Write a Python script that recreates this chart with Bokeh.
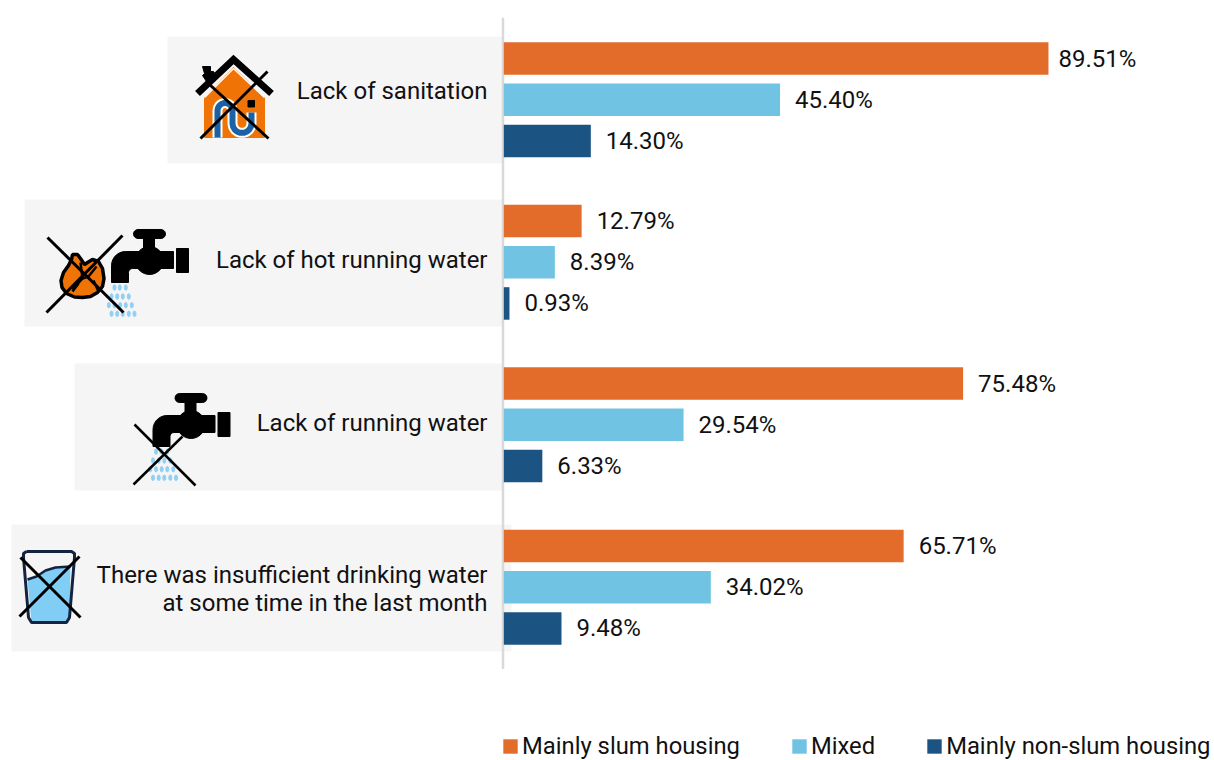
import numpy as np
from bokeh.plotting import figure
from bokeh.layouts import column
from bokeh.models import FactorRange, Range1d, Legend, LegendItem, ColumnDataSource
from bokeh.core.properties import value
from bokeh.embed import file_html
from bokeh.resources import INLINE

categories = ["Lack of sanitation", "Lack of hot running water", "Lack of running water",
              "There was insufficient drinking water\nat some time in the last month"]
series = ["Mainly slum housing", "Mixed", "Mainly non-slum housing"]
slum = [89.51, 12.79, 75.48, 65.71]
mixed = [45.40, 8.39, 29.54, 34.02]
nonslum = [14.30, 0.93, 6.33, 9.48]
colors = ["#E36C2B", "#70C3E3", "#1B5482"]
panel_lefts = [167, 24, 74, 11]
panel_rights = [503, 503, 503, 511]
panel_tops = [36, 199, 363, 524]
label_nudges = [-9, -2, -2, 2]
FONT = "Roboto"
FS = "24px"

factors = [(c, s) for c in reversed(categories) for s in reversed(series)]
W = 1214
TOP, BOTTOM, PAGE_H = 17, 669, 760
PX = 6.085   # pixels per percent
x0_page = 503.3
GROUP_PAD = 0.944
RANGE_PAD = 0.495   # per end
TOTAL = 12 + 3 * GROUP_PAD
PXU = (BOTTOM - TOP) / (TOTAL + 2 * RANGE_PAD)   # pixels per factor unit


def Y(v):
    """page pixel -> synthetic coordinate on the factor range (pictograms only)"""
    return list(-RANGE_PAD + (BOTTOM - np.asarray(v, dtype=float)) / PXU)


p = figure(width=W, height=BOTTOM, output_backend="svg", toolbar_location=None,
           x_range=Range1d((0 - x0_page) / PX, (W - x0_page) / PX),
           y_range=FactorRange(factors=factors, factor_padding=0, group_padding=GROUP_PAD,
                               subgroup_padding=0, range_padding=RANGE_PAD, range_padding_units="absolute"),
           min_border_left=0, min_border_right=0, min_border_top=TOP, min_border_bottom=0,
           outline_line_color=None, background_fill_color="white", border_fill_color="white")
p.xaxis.visible = False
p.yaxis.visible = False
p.grid.visible = False
# page-pixel coordinates for the pictograms
p.extra_x_ranges["px"] = Range1d(0, W)
pk = dict(x_range_name="px")

# panels behind the categories
p.quad(left=panel_lefts, right=panel_rights, top=Y(panel_tops), bottom=Y([t + 127 for t in panel_tops]),
       fill_color="#F5F5F5", line_color=None, **pk)

# vertical base line, over the panels and under the bars
p.segment(x0=[502.5], x1=[502.5], y0=Y([TOP]), y1=Y([BOTTOM]), line_color="#D9D9D9", line_width=2.5, **pk)

# bars
for s, vals, col in zip(series, [slum, mixed, nonslum], colors):
    src = ColumnDataSource(dict(y=[(c, s) for c in categories], v=vals,
                                lab=[f"{v:.2f}%" for v in vals],
                                dx=[10 if v > 85 else 15 for v in vals]))
    p.hbar(y="y", right="v", left=0, height=32.5 / PXU, fill_color=col, line_color=None, source=src)
    p.text(x="v", y="y", text="lab", x_offset="dx", source=src, text_font=value(FONT), text_font_size=FS,
           text_color="#111111", text_align="left", text_baseline="middle")

# category labels
p.text(x=[(487 - x0_page) / PX] * 4, y=[(c, "Mixed") for c in categories], text=categories,
       y_offset=label_nudges,
       text_font=value(FONT), text_font_size=FS, text_color="#111111", text_align="right",
       text_baseline="middle", text_line_height=1.0)


# ---- pictograms (decoration, page pixels)
def arc(cx, cy, r, a0, a1, n=12):
    a = np.radians(np.linspace(a0, a1, n))
    return list(cx + r * np.cos(a)), list(cy - r * np.sin(a))


def cross(a, b, w=3):
    p.multi_line(xs=[[a[0], a[2]], [b[0], b[2]]], ys=[Y([a[1], a[3]]), Y([b[1], b[3]])],
                 line_color="black", line_width=w, **pk)


DROPS = [(114, 287), (119.3, 287), (125.3, 287),
         (111, 296), (116.7, 296), (122.3, 296), (128.3, 296),
         (108.3, 304.7), (114, 304.7), (119.7, 304.7), (125.3, 304.7), (131.3, 304.7),
         (111, 313.3), (116.7, 313.3), (122.3, 313.3), (128.3, 313.3), (134, 313.3)]


def faucet(dx, dy):
    ax, ay = arc(137.5, 233.5, 4.5, 90, 270, 8)
    bx, by = arc(160.5, 233.5, 4.5, -90, 90, 8)
    p.patch(list(np.array(ax + bx) + dx), Y(np.array(ay + by) + dy), color="black", **pk)
    p.quad(left=[143 + dx], right=[154 + dx], top=Y([237 + dy]), bottom=Y([250 + dy]), color="black", **pk)
    cx, cy = arc(149, 260, 14, 0, 360, 30)
    p.patch(list(np.array(cx) + dx), Y(np.array(cy) + dy), color="black", **pk)
    p.quad(left=[140 + dx], right=[173 + dx], top=Y([251 + dy]), bottom=Y([268 + dy]), color="black", **pk)
    p.quad(left=[176 + dx], right=[188 + dx], top=Y([248 + dy]), bottom=Y([272 + dy]), color="black", **pk)
    ox, oy = arc(125, 265, 14, 90, 180, 8)
    ix, iy = arc(132, 272, 4, 180, 90, 5)
    sx = [140] + ox + [111, 128] + ix + [140]
    sy = [251] + oy + [282, 282] + iy + [268]
    p.patch(list(np.array(sx) + dx), Y(np.array(sy) + dy), color="black", **pk)
    p.ellipse(x=[d[0] + dx for d in DROPS], y=Y([d[1] + dy for d in DROPS]), width=3.0, height=5.5,
              width_units="screen", height_units="screen", color="#8FD0F5", **pk)


# house
p.patch([204, 204, 233, 264, 264], Y([137, 97, 67, 97, 137]), color="#F07305", **pk)
p.line([197, 233, 271], Y([93, 59, 93]), line_color="black", line_width=7, line_join="miter", **pk)
p.line([204, 233, 264], Y([97, 68, 97]), line_color="white", line_width=1.5, **pk)
p.patch([202, 210, 210, 213, 216, 208, 202, 204], Y([66, 66, 71, 71, 76, 84, 75, 73]), color="black", **pk)
a1x, a1y = arc(224.5, 110, 7.5, 180, 0, 10)
a2x, a2y = arc(241.5, 123, 9.5, 180, 360, 10)
pipe_x = [217] + a1x + a2x + [251, 251]
pipe_y = [137] + a1y + a2y + [112, 112]
p.line(pipe_x, Y(pipe_y), line_color="white", line_width=10, **pk)
p.line(pipe_x, Y(pipe_y), line_color="#1A62A3", line_width=6, **pk)
p.quad(left=[247.5], right=[254], top=Y([100]), bottom=Y([106.5]), color="black", **pk)
cross((200, 138, 267, 71), (209, 84, 268, 138))

# hot-water tap
faucet(0, 0)
fx = [82, 74, 66, 61.5, 60.5, 63, 68, 71, 72, 77, 80, 84, 87, 92, 98, 102, 103.5, 102, 97, 90]
fy = [297, 296.5, 293, 287, 280, 272, 265, 259, 254, 254, 258, 264, 262, 259, 261, 268, 278, 286, 292, 296]
p.patch(fx, Y(fy), fill_color="#F07305", line_color="black", line_width=3.5, **pk)
p.multi_line(xs=[[72, 82, 80], [96, 88, 82], [72, 78], [93, 98]],
             ys=[Y([289, 278, 262]), Y([266, 276, 278]), Y([291, 283]), Y([280, 291])],
             line_color="black", line_width=2.5, **pk)
cross((47, 237, 123, 312), (122, 235, 46, 312))

# running-water tap
faucet(41.5, 164)
cross((134, 424, 195, 485), (182, 436, 133, 484), 2.5)

# glass
wx = [27, 36, 45, 55, 70, 69, 66, 31]
wy = [579, 576, 570, 567, 566, 617, 622, 622]
p.patch(wx, Y(wy), fill_color="#80CEF6", line_color=None, **pk)
p.line(wx[:5], Y(wy[:5]), line_color="#14233F", line_width=2.5, **pk)
gx = [26, 71, 74, 74, 69, 66, 31, 28, 23, 23, 26]
gy = [551, 551, 553, 557, 617, 622, 622, 617, 557, 553, 551]
p.line(gx, Y(gy), line_color="#14233F", line_width=3, **pk)
cross((20, 557, 80, 617), (79, 556, 19, 616))

# legend strip, a second figure directly under the chart
q = figure(width=W, height=PAGE_H - BOTTOM, output_backend="svg", toolbar_location=None,
           x_range=Range1d(0, W), y_range=Range1d(0, PAGE_H - BOTTOM),
           min_border_left=0, min_border_right=0, min_border_top=0, min_border_bottom=0,
           outline_line_color=None, background_fill_color="white", border_fill_color="white")
q.xaxis.visible = False
q.yaxis.visible = False
q.grid.visible = False
# legend keys: one quad each, lying outside the strip's visible range
keys = [q.quad(left=[-100], right=[-90], top=[-100], bottom=[-90], fill_color=c, line_color=None) for c in colors]
legend = Legend(items=[LegendItem(label=s, renderers=[r]) for s, r in zip(series, keys)],
                orientation="horizontal", location=(501, 0), background_fill_alpha=0, border_line_alpha=0,
                padding=0, margin=0, spacing=50, glyph_width=18, glyph_height=18, label_standoff=3,
                label_text_font=FONT, label_text_font_size="23.8px", label_text_color="#111111",
                label_height=18, click_policy="none")
q.add_layout(legend, "center")

page = column(p, q, spacing=0)
open("out.html", "w").write(file_html(page, INLINE))
